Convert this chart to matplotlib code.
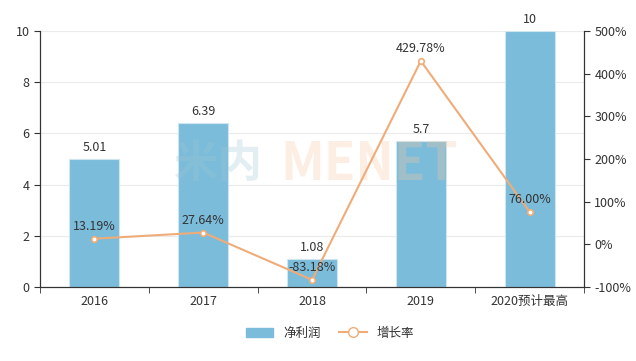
import numpy as np
import matplotlib.pyplot as plt
from matplotlib.lines import Line2D
from matplotlib.patches import Patch

plt.rcParams['font.family'] = ['Noto Sans CJK SC', 'DejaVu Sans']

# data
years = ['2016', '2017', '2018', '2019', '2020预计最高']
profit = [5.01, 6.39, 1.08, 5.7, 10]
profit_labels = ['5.01', '6.39', '1.08', '5.7', '10']
growth = [13.19, 27.64, -83.18, 429.78, 76.00]
growth_labels = ['13.19%', '27.64%', '-83.18%', '429.78%', '76.00%']

bar_color = '#7bbcda'
line_color = '#f0ac78'
text_color = '#333333'

fig = plt.figure(figsize=(6.36, 3.61), dpi=100)
ax = fig.add_axes([40/636, 1-287/361, 544/636, 256/361])
ax2 = ax.twinx()

x = np.arange(len(years))
ax.bar(x, profit, width=0.46, color=bar_color, edgecolor='#cfe6f1', linewidth=0.8, zorder=2)
for xi, v, lab in zip(x, profit, profit_labels):
    ax.text(xi, v + 0.2, lab, ha='center', va='bottom', fontsize=9, color=text_color, zorder=5)

ax.set_xlim(-0.5, len(years) - 0.5)
ax.set_ylim(0, 10)
ax.set_yticks([0, 2, 4, 6, 8, 10])
ax.set_xticks(x)
ax.set_xticklabels(years)
ax.set_xticks(np.arange(len(years) + 1) - 0.5, minor=True)
ax.tick_params(axis='x', which='major', length=0, pad=6, labelsize=9, colors=text_color)
ax.tick_params(axis='x', which='minor', length=4, color='#333333')
ax.tick_params(axis='y', length=4, labelsize=9, colors=text_color, color='#333333')
ax.grid(axis='y', color='#ebebeb', linewidth=0.8, zorder=0)
ax.set_axisbelow(True)

# faint watermark over the bars
ax.text(1.14, 4.8, '米内', fontsize=32, fontweight='bold', color='#9cc4d2',
        alpha=0.28, ha='center', va='center', zorder=3)
ax.text(2.52, 4.8, 'MENET', fontsize=37, fontweight='bold', color='#f8c9a0',
        alpha=0.3, ha='center', va='center', zorder=3)

ax2.plot(x, growth, color=line_color, linewidth=1.5, marker='o', markersize=4,
         markerfacecolor='white', markeredgecolor=line_color, markeredgewidth=1.2, zorder=4)
for xi, v, lab in zip(x, growth, growth_labels):
    ax2.text(xi, v + 14, lab, ha='center', va='bottom', fontsize=9, color=text_color, zorder=5)
ax2.set_ylim(-100, 500)
ax2.set_yticks([-100, 0, 100, 200, 300, 400, 500])
ax2.set_yticklabels([f'{t}%' for t in [-100, 0, 100, 200, 300, 400, 500]])
ax2.tick_params(axis='y', length=4, labelsize=9, colors=text_color, color='#333333')

for a in (ax, ax2):
    a.spines['top'].set_visible(False)
    a.spines['left'].set_color('#333333')
    a.spines['right'].set_color('#333333')
    a.spines['bottom'].set_color('#333333')

handles = [Patch(facecolor=bar_color, edgecolor=bar_color),
           Line2D([0], [0], color=line_color, marker='o', markersize=7,
                  markerfacecolor='white', markeredgecolor=line_color, linewidth=1.5)]
fig.legend(handles, ['净利润', '增长率'], loc='center', bbox_to_anchor=(330/636, 1-333/361),
           ncol=2, frameon=False, fontsize=9, handlelength=2.2, columnspacing=1.5,
           labelcolor=text_color)

fig.savefig('out.png', dpi=100)
